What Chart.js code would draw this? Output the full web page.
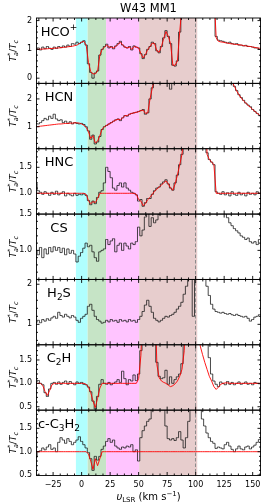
<!DOCTYPE html>
<html><head><meta charset="utf-8">
<script src="https://cdn.jsdelivr.net/npm/chart.js@4"></script>
<style>html,body{margin:0;padding:0;background:#fff;overflow:hidden}canvas{display:block}</style>
</head><body>
<canvas id="c" width="262" height="504"></canvas>
<script>
// ---------------- data ----------------
const velocity = [-40,-38,-36,-34,-32,-30,-28,-26,-24,-22,-20,-18,-16,-14,-12,-10,-8,-6,-4,-2,
0,2,4,6,8,10,12,14,16,18,20,22,24,26,28,30,32,34,36,38,
40,42,44,46,48,50,52,54,56,58,60,62,64,66,68,70,72,74,76,78,
80,82,84,86,88,90,92,94,96,98,100,102,104,106,108,110,112,114,116,118,
120,122,124,126,128,130,132,134,136,138,140,142,144,146,148,150,152,154,156,158];

const molecules = ['HCO+','HCN','HNC','CS','H2S','C2H','c-C3H2'];

const hcoObs = [1.0,1.05,0.98,1.08,1.02,1.1,1.04,1.0,1.08,1.03,
1.1,1.06,1.12,1.08,1.15,1.1,1.2,1.18,1.25,1.2,
1.25,1.3,1.15,0.5,0.2,0.0,0.18,0.25,0.8,1.0,
1.1,1.18,1.05,1.1,1.02,1.12,1.2,1.28,1.15,1.08,
1.05,1.1,0.98,1.12,1.08,1.05,0.85,0.68,0.82,1.0,
1.1,1.25,1.2,0.95,0.88,1.1,1.4,1.65,1.45,1.2,
0.45,0.42,0.6,1.6,2.5,3,3,3,3,3,
3,3,3,3,3,3,3,3,3,1.45,
1.32,1.3,1.28,1.25,1.22,1.25,1.2,1.18,1.2,1.15,
1.15,1.12,1.14,1.1,1.1,1.08,1.05,1.05,1.0,1.0];
const hcoFit = [1.0,1.0,1.01,1.01,1.02,1.02,1.03,1.03,1.04,1.05,
1.05,1.06,1.07,1.08,1.09,1.1,1.11,1.13,1.15,1.2,
1.25,1.28,1.15,0.55,0.22,0.15,0.15,0.25,0.8,1.0,
1.08,1.15,1.08,1.08,1.05,1.1,1.18,1.25,1.15,1.08,
1.05,1.08,1.0,1.1,1.08,1.05,0.85,0.7,0.82,1.0,
1.1,1.22,1.2,0.95,0.9,1.1,1.38,1.62,1.45,1.2,
0.45,0.45,0.6,1.6,2.5,3,null,null,null,null,
null,null,null,null,null,null,null,null,3,1.4,
1.28,1.26,1.25,1.23,1.22,1.2,1.19,1.18,1.17,1.16,
1.15,1.13,1.12,1.11,1.1,1.08,1.07,1.05,1.04,1.03];

const hcnObs = [1.12,1.1,1.15,1.22,1.3,1.25,1.38,1.3,1.45,1.28,
1.22,1.25,1.15,1.2,1.12,1.18,1.1,1.15,1.12,1.1,
1.12,1.08,1.0,0.85,0.55,0.7,0.38,0.45,0.65,0.9,
1.0,1.05,1.1,1.15,1.2,1.25,1.28,1.22,1.32,1.4,
1.38,1.45,1.48,1.5,1.52,1.55,1.58,1.62,1.45,1.5,
2.0,2.4,2.7,3,3,3,3,3,3,2.35,
3,3,3,3,3,3,3,3,3,3,
3,3,3,3,3,3,3,3,3,3,
3,3,3,3,3,3,2.65,2.45,2.3,2.15,
2.05,1.95,1.85,1.78,1.72,1.62,1.55,1.48,1.4,1.38];
const hcnFit = [1.0,1.01,1.02,1.03,1.04,1.05,1.06,1.07,1.08,1.09,
1.1,1.1,1.11,1.12,1.12,1.13,1.13,1.14,1.14,1.13,
1.1,1.05,0.98,0.82,0.58,0.68,0.42,0.48,0.68,0.92,
1.0,1.05,1.1,1.14,1.2,1.24,1.27,1.25,1.32,1.4,
1.4,1.45,1.48,1.5,1.52,1.54,1.58,1.6,1.48,1.5,
2.0,2.4,2.7,3,null,null,null,null,null,null,
null,null,null,null,null,null,null,null,null,null,
null,null,null,null,null,null,null,null,null,null,
null,null,null,null,null,3,2.62,2.45,2.28,2.15,
2.03,1.93,1.85,1.77,1.7,1.62,1.55,1.48,1.42,1.38];

const hncObs = [1.18,1.05,1.02,0.98,1.03,1.0,0.96,1.02,0.98,1.04,
0.97,1.0,1.03,0.95,1.0,0.97,0.95,1.0,0.96,0.98,
0.97,0.99,0.96,0.86,0.78,0.85,0.8,0.92,1.02,1.05,
1.2,1.5,1.42,1.3,1.1,1.06,1.15,1.2,1.12,1.2,
1.1,1.06,1.02,1.0,0.97,0.85,0.88,0.75,0.82,0.9,
0.9,0.98,1.05,1.1,1.12,1.18,1.22,1.26,1.18,1.1,
1.06,1.2,1.35,1.55,1.75,2.2,3,3,3,3,
3,3,3,3,3,1.78,1.65,1.6,1.55,1.03,
1.0,0.98,1.03,0.97,1.01,0.95,1.03,0.98,0.96,1.02,
0.97,1.0,0.95,1.02,0.98,1.0,0.97,1.03,1.0,1.0];
const hncFit = [1,1,1,1,1,1,1,1,1,1,
1,1,1,1,1,1,1,1,1,1,
1.0,1.0,0.98,0.86,0.8,0.84,0.82,0.9,1.0,1.0,
1,1,1,1,1,1,1,1,1,1,
1.0,1.0,1.0,1.0,0.98,0.88,0.85,0.76,0.8,0.88,
0.92,0.98,1.04,1.08,1.12,1.16,1.2,1.24,1.18,1.1,
1.06,1.18,1.35,1.55,1.75,2.2,3,null,null,null,
null,null,null,null,3,1.75,1.65,1.6,1.55,1.0,
1,1,1,1,1,1,1,1,1,1,
1,1,1,1,1,1,1,1,1,1];

const csObs = [1.0,0.94,1.04,0.9,1.02,0.95,1.04,0.98,1.05,1.0,
1.04,0.97,1.03,0.94,1.02,0.96,1.0,0.95,0.84,0.92,
0.97,1.03,1.1,1.05,1.07,0.98,0.9,0.85,0.98,1.0,
1.02,1.15,1.08,1.13,1.16,0.98,1.07,1.1,1.0,1.1,
1.06,1.02,1.1,1.08,1.12,1.32,1.2,1.28,1.46,1.6,
1.33,1.45,1.38,1.42,1.5,3,3,3,3,3,
3,3,3,3,3,3,3,3,3,3,
3,3,3,3,3,3,3,3,3,3,
3,3,3,1.52,1.45,1.38,1.34,1.3,1.27,1.24,
1.2,1.18,1.15,1.17,1.12,1.1,1.12,1.08,1.15,1.3];

const h2sObs = [1.05,1.1,1.04,1.12,1.08,1.14,1.1,1.16,1.2,1.15,
1.3,1.22,1.18,1.25,1.2,1.16,1.22,1.18,1.1,1.05,
1.15,1.2,1.25,1.45,1.5,1.35,1.2,1.12,1.08,1.03,
1.05,1.1,1.06,1.12,1.08,1.1,1.05,1.12,1.08,1.1,
1.06,1.12,1.08,1.1,1.05,1.12,1.2,1.32,1.48,1.6,
1.45,1.3,1.15,1.1,1.06,1.1,1.15,1.2,1.18,1.22,
1.25,1.3,1.38,1.45,1.55,1.75,1.95,3,3,1.2,
3,3,3,3,3,1.95,1.72,1.5,1.38,1.32,
1.3,1.28,1.3,1.27,1.25,1.27,1.24,1.22,1.25,1.22,
1.2,1.18,1.2,1.15,1.08,1.12,1.18,1.2,1.24,1.24];

const c2hObs = [1.03,1.06,1.0,0.97,0.8,0.72,0.88,1.0,1.02,0.98,
1.03,0.98,1.02,1.05,0.98,1.04,1.0,0.97,1.03,1.0,
1.02,0.98,0.97,0.92,0.82,0.62,0.45,0.72,0.98,1.08,
1.0,0.98,1.02,0.97,1.0,1.03,1.08,1.02,1.26,1.1,
0.97,1.08,1.05,1.18,1.06,1.2,1.7,3,3,3,
3,3,3,1.45,1.15,1.1,1.12,1.28,0.98,1.14,
1.0,1.08,1.14,1.2,1.42,3,3,3,3,3,
3,3,3,3,3,3,1.55,1.2,1.05,0.98,
0.93,1.03,1.0,0.97,1.04,0.98,1.02,0.97,1.0,1.03,
0.98,1.0,1.03,0.98,1.0,0.97,1.02,1.0,0.99,1.0];
const c2hFit = [1.0,1.0,1.0,0.95,0.82,0.74,0.85,0.97,1.0,1.0,
1,1,1,1,1,1,1,1,1,1,
1.0,1.0,0.98,0.92,0.8,0.62,0.48,0.68,0.9,1.0,
1,1,1,1,1,1,1,1,1,1,
1.0,1.0,1.0,1.0,1.0,1.1,1.6,3,null,null,
null,null,3,1.4,1.12,1.05,1.02,1.0,0.96,0.93,
0.95,0.99,1.05,1.15,1.3,1.7,3,null,null,null,
null,3,1.8,1.62,1.45,1.3,1.15,1.05,0.93,0.87,
0.92,0.98,1.0,1.01,1.01,1.0,1.0,1.0,1.0,1.0,
1,1,1,1,1,1,1,1,1,1];

const c3h2Obs = [0.88,1.0,1.02,1.08,1.04,1.1,1.15,1.05,1.08,1.0,
1.2,1.3,1.25,1.18,1.28,1.22,1.15,1.2,1.25,1.32,
1.22,1.15,1.08,0.98,0.85,0.6,0.9,0.82,0.9,1.05,
1.12,1.22,1.28,1.2,1.25,1.12,1.08,1.05,1.1,1.08,
1.12,1.1,1.15,1.0,1.04,0.8,1.3,1.45,1.55,1.65,
1.7,3,3,3,3,3,3,1.55,1.28,1.25,
1.28,1.24,1.3,1.43,1.25,1.08,1.3,1.65,3,3,
3,3,3,1.7,1.55,1.4,1.3,1.22,1.18,1.07,
1.1,1.08,1.06,1.15,1.2,1.12,1.05,1.0,1.06,1.12,
1.06,1.04,1.1,1.12,1.06,1.1,1.14,1.2,1.26,1.28];
const c3h2Fit = [1,1,1,1,1,1,1,1,1,1,
1,1,1,1,1,1,1,1,1,1,
1,1,1,0.95,0.8,0.62,0.85,0.7,0.85,1.0,
1,1,1,1,1,1,1,1,1,1,
1,1,1,1,1,1,1,1,1,1,
1,1,1,1,1,1,1,1,1,1,
1,1,1,1,1,1,1,1,1,1,
1,1,1,1,1,1,1,1,1,1,
1,1,1,1,1,1,1,1,1,1,
1,1,1,1,1,1,1,1,1,1];

const xTicks = [-25,0,25,50,75,100,125,150];
const yTicks = [[0,1,2],[1,2],[1.0,1.5],[1.0,1.5],[1,2],[0.5,1.0,1.5],[0.5,1.0,1.5]];
const bandEdges = [-5, 5.3, 21.5, 50.5, 101.4];   // cyan | green | pink | brown
const markerVelocity = 99.3;                     // dashed line

// ---------------- style / layout ----------------
const FONT = '"DejaVu Sans", sans-serif';
const bandColors = ['rgb(176,255,255)','rgb(198,228,198)','rgb(255,196,255)','rgb(231,205,205)'];
const panels = [
  {obs:hcoObs, fit:hcoFit, min:-0.18, max:2.09, minor:0.2, dec:0},
  {obs:hcnObs, fit:hcnFit, min:0.21, max:2.56, minor:0.2, dec:0},
  {obs:hncObs, fit:hncFit, min:0.6, max:1.858, minor:0.1, dec:1},
  {obs:csObs, fit:null, min:0.6, max:1.5, minor:0.1, dec:1},
  {obs:h2sObs, fit:null, min:0.49, max:2.12, minor:0.2, dec:0},
  {obs:c2hObs, fit:c2hFit, min:0.427, max:1.825, minor:0.1, dec:1},
  {obs:c3h2Obs, fit:c3h2Fit, min:0.49, max:1.89, minor:0.1, dec:1}
];

function pts(arr){ return velocity.map((v,i)=>({x:v, y:arr[i]})); }

const datasets = [];
panels.forEach((p,i)=>{
  const yid = 'y'+(i+1);
  if (p.fit) datasets.push({data:pts(p.fit), yAxisID:yid, borderColor:'#ff0000', borderWidth:0.9,
    pointRadius:0, tension:0, spanGaps:false, order:0, clip:0});
  datasets.push({data:pts(p.obs), yAxisID:yid, borderColor:'#1a1a1a', borderWidth:0.8,
    pointRadius:0, stepped:'middle', spanGaps:false, order:1, clip:0});
});

const scales = {
  x: {type:'linear', position:'bottom', min:-40, max:157.3,
      grid:{display:false, drawTicks:false}, border:{display:false},
      afterBuildTicks: s => { s.ticks = xTicks.map(v=>({value:v})); },
      afterFit: s => { s.height = 28.5; s.paddingLeft = 0; s.paddingRight = 0; },
      ticks:{font:{size:8, family:FONT}, color:'#000', padding:5, maxRotation:0, autoSkip:false,
             callback: v => v < 0 ? '\u2212' + Math.abs(v) : String(v)}}
};
panels.forEach((p,i)=>{
  scales['y'+(i+1)] = {type:'linear', position:'left', stack:'panels', stackWeight:1, weight:7-i,
    min:p.min, max:p.max, grid:{display:false, drawTicks:false}, border:{display:false},
    afterBuildTicks: s => { s.ticks = yTicks[i].map(v=>({value:v})); },
    afterFit: s => { s.width = 36; s.paddingTop = 0; s.paddingBottom = 0; },
    ticks:{font:{size:8, family:FONT}, color:'#000', padding:4, autoSkip:false,
           callback: v => p.dec ? Number(v).toFixed(1) : String(v)}};
});

function fontOf(s){ return (s.it?'italic ':'') + s.s + 'px ' + FONT; }
function richWidth(ctx, segs){ let w=0; segs.forEach(s=>{ ctx.font=fontOf(s); if(!s.noAdv) w+=ctx.measureText(s.t).width; }); return w; }
function drawRich(ctx, segs, x, y, align){
  const w = richWidth(ctx, segs);
  let cx = align==='center' ? x - w/2 : x;
  ctx.textAlign='left'; ctx.textBaseline='alphabetic';
  segs.forEach(s=>{ ctx.font=fontOf(s); ctx.fillText(s.t, cx, y+(s.dy||0)); if(!s.noAdv) cx += ctx.measureText(s.t).width; });
}
function moleculeSegs(name){
  const segs=[];
  for (const ch of name){
    if (/[0-9]/.test(ch)) segs.push({t:ch, s:9, dy:3});
    else if (ch==='+') segs.push({t:ch, s:9, dy:-5.5});
    else segs.push({t:ch, s:13});
  }
  return segs;
}

const deco = {
  id:'deco',
  beforeDatasetsDraw(chart){
    const ctx=chart.ctx, xs=chart.scales.x, ca=chart.chartArea;
    ctx.save();
    for (let b=0;b<4;b++){
      const a=xs.getPixelForValue(bandEdges[b]), c=xs.getPixelForValue(bandEdges[b+1]);
      ctx.fillStyle=bandColors[b]; ctx.fillRect(a, ca.top, c-a, ca.bottom-ca.top);
    }
    const dx=Math.round(xs.getPixelForValue(markerVelocity))+0.5;
    ctx.strokeStyle='#8c8c8c'; ctx.lineWidth=1; ctx.setLineDash([3.5,2]);
    ctx.beginPath(); ctx.moveTo(dx, ca.top); ctx.lineTo(dx, ca.bottom); ctx.stroke();
    ctx.restore();
  },
  afterDatasetsDraw(chart){
    const ctx=chart.ctx, xs=chart.scales.x;
    const L=xs.left, R=xs.right;
    ctx.save(); ctx.strokeStyle='#000'; ctx.lineWidth=0.9;
    panels.forEach((p,i)=>{
      const ys=chart.scales['y'+(i+1)], T=ys.top, B=ys.bottom;
      ctx.beginPath();
      const addX=(v,len)=>{ const px=xs.getPixelForValue(v); ctx.moveTo(px,B); ctx.lineTo(px,B-len); ctx.moveTo(px,T); ctx.lineTo(px,T+len); };
      xTicks.forEach(v=>addX(v,3.5));
      for (let v=-37.5; v<=157.3; v+=6.25) if(!xTicks.includes(v)) addX(v,2);
      const addY=(v,len)=>{ const py=ys.getPixelForValue(v); ctx.moveTo(L,py); ctx.lineTo(L+len,py); ctx.moveTo(R,py); ctx.lineTo(R-len,py); };
      yTicks[i].forEach(v=>addY(v,3.5));
      for (let k=Math.ceil(p.min/p.minor-1e-9); k*p.minor<=p.max+1e-9; k++){
        const v=+(k*p.minor).toFixed(3);
        if (!yTicks[i].some(t=>Math.abs(t-v)<1e-6)) addY(v,2);
      }
      ctx.stroke();
      ctx.strokeRect(L+0.5, T, R-L-1, B-T);
    });
    ctx.restore();
  },
  afterDraw(chart){
    const ctx=chart.ctx, xs=chart.scales.x, ca=chart.chartArea;
    ctx.save(); ctx.fillStyle='#000';
    const midX=(ca.left+ca.right)/2;
    ctx.font='11.5px '+FONT; ctx.textAlign='center'; ctx.textBaseline='alphabetic';
    ctx.fillText('W43 MM1', midX, 11.5);
    panels.forEach((p,i)=>{
      const ys=chart.scales['y'+(i+1)];
      drawRich(ctx, moleculeSegs(molecules[i]), 59, ys.top+17.5, 'center');
      const cy=(ys.top+ys.bottom)/2;
      ctx.save(); ctx.translate(12, cy); ctx.rotate(-Math.PI/2);
      drawRich(ctx, [{t:'T',s:9,it:true},{t:'*',s:6.5,dy:-3.5,noAdv:true},{t:'a',s:6.5,it:true,dy:2},
                     {t:'/',s:9},{t:'T',s:9,it:true},{t:'c',s:6.5,it:true,dy:2}], 0, 3.5, 'center');
      ctx.restore();
    });
    drawRich(ctx, [{t:'\u03c5',s:10,it:true},{t:'LSR',s:7,dy:2.5},{t:' (km s',s:10},{t:'\u22121',s:7,dy:-4},{t:')',s:10}], midX, 499.5, 'center');
    ctx.restore();
  }
};

new Chart(document.getElementById('c'), {
  type:'line',
  data:{datasets},
  options:{
    responsive:false, animation:false, devicePixelRatio:1, events:[],
    layout:{padding:{top:18, right:1, left:0, bottom:0}},
    plugins:{legend:{display:false}, tooltip:{enabled:false}, title:{display:false}},
    scales
  },
  plugins:[deco]
});
</script>
</body></html>
